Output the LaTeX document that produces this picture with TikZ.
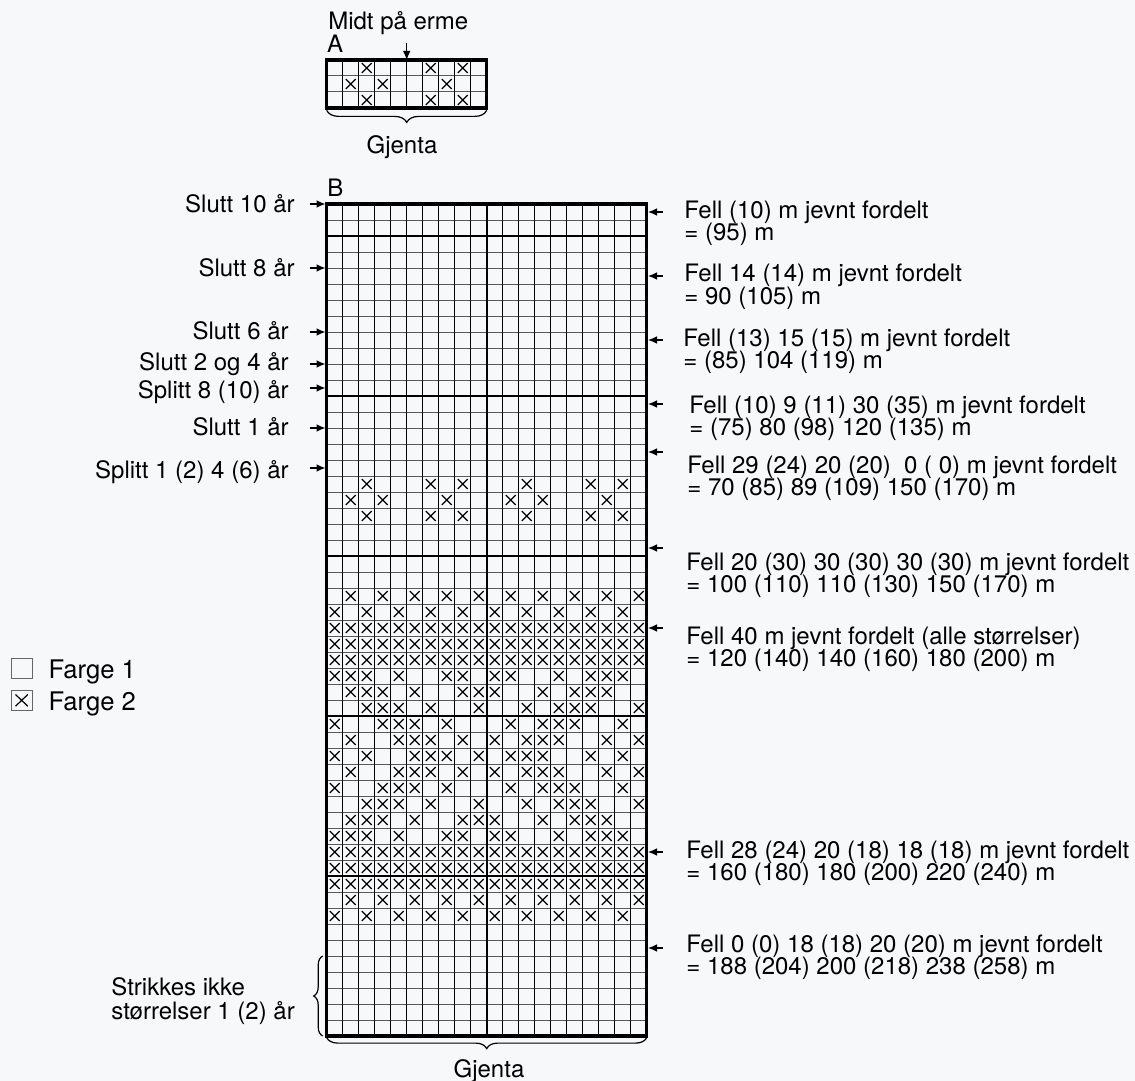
\documentclass[tikz,border=0pt]{standalone}
\usepackage{fontspec}
\setmainfont{TeX Gyre Heros}
\usetikzlibrary{arrows.meta,decorations.pathreplacing}
\definecolor{bakgrunn}{RGB}{247,248,250}
\tikzset{>={Latex[length=4.5pt,width=3.8pt]}}
\tikzset{
  pil/.style={->,line width=0.6pt},
  vlinje/.style={line width=0.5pt},
  hlinje/.style={line width=0.5pt,black!65},
  tiende/.style={line width=1pt},
  ramme/.style={line width=1.6pt},
  kryss/.style={line width=0.6pt},
  klamme/.style={decorate,line width=0.6pt},
}

\begin{document}
\begin{tikzpicture}[x=0.5pt,y=-0.5pt,font=\fontsize{12}{11.2}\selectfont]
\fill[bakgrunn] (0,0) rectangle (1135,1081);
\useasboundingbox (0,0) rectangle (1135,1081);

% diagram A
\node[anchor=base,inner sep=0pt] (midt) at (398.3,29.3) {Midt på erme};
\node[anchor=base west,inner sep=0pt] (A) at (326.7,52.3) {A};
\coordinate (midtHale) at (406.7,43);
\coordinate (midtSpiss) at (406.7,60);
\draw[pil] (midtHale) -- (midtSpiss);
\begin{scope}[shift={(326.7,60)},x=8pt,y=-8pt]
\foreach \r in {1,2} \draw[hlinje] (0,\r) -- (10,\r);
\foreach \c in {1,...,9} \draw[vlinje] (\c,0) -- (\c,3);
\foreach \r/\cs in {0/{2,6,8},1/{1,3,7},2/{2,6,8}}
  \foreach \c in \cs
    \draw[kryss] (\c+.19,\r+.19) -- (\c+.81,\r+.81) (\c+.19,\r+.81) -- (\c+.81,\r+.19);
\draw[ramme] (0,0) rectangle (10,3);
\coordinate (Avs) at (0,3.15);
\coordinate (Ahs) at (10,3.15);
\end{scope}
\draw[klamme,decoration={brace,amplitude=6pt}] (Ahs) -- (Avs);
\node[anchor=base,inner sep=0pt] (gjentaA) at (402,154) {Gjenta};

% diagram B
\node[anchor=base west,inner sep=0pt] (B) at (327,196) {B};
\begin{scope}[shift={(326.7,204)},x=8pt,y=-8pt]
\foreach \r in {1,...,51} \draw[hlinje] (0,\r) -- (20,\r);
\foreach \c in {1,...,19} \draw[vlinje] (\c,0) -- (\c,52);
\foreach \r in {2,12,22,32,42} \draw[tiende] (0,\r) -- (20,\r);
\draw[line width=0.9pt] (10,0) -- (10,52);
\foreach \r/\cs in {17/{2,6,8,12,16,18},18/{1,3,7,11,13,17},19/{2,6,8,12,16,18},
    24/{1,3,...,19},25/{0,2,...,18},26/{0,...,19},27/{0,...,19},28/{0,...,19},
    29/{0,1,2,4,7,8,10,11,14,16,17,18},30/{1,2,3,5,8,9,10,13,15,16,17},
    31/{2,3,4,6,9,12,14,15,16,19},32/{0,3,4,5,7,11,13,14,15,18},
    33/{1,4,5,6,8,10,12,13,14,17,19},34/{0,2,5,6,7,9,11,12,13,16,18},
    35/{1,4,5,6,8,10,12,13,14,17,19},36/{0,3,4,5,7,11,13,14,15,18},
    37/{2,3,4,6,9,12,14,15,16,19},38/{1,2,3,5,8,9,10,13,15,16,17},
    39/{0,1,2,4,7,8,10,11,14,16,17,18},40/{0,...,19},41/{0,...,19},42/{0,...,19},
    43/{1,3,...,19},44/{0,2,...,18}}
  \foreach \c in \cs
    \draw[kryss] (\c+.19,\r+.19) -- (\c+.81,\r+.81) (\c+.19,\r+.81) -- (\c+.81,\r+.19);
\draw[ramme] (0,0) rectangle (20,52);
\coordinate (Bvs) at (0,52.1);
\coordinate (Bhs) at (20,52.1);
\coordinate (Bo) at (-0.25,47);
\coordinate (Bu) at (-0.25,52);
\end{scope}
\draw[klamme,decoration={brace,amplitude=5.5pt}] (Bhs) -- (Bvs);
\node[anchor=base,inner sep=0pt] (gjentaB) at (489,1077) {Gjenta};
\draw[klamme,decoration={brace,amplitude=4.5pt}] (Bu) -- (Bo);
\node[anchor=base west,inner sep=0pt] (strikkes1) at (111,995) {Strikkes ikke};
\node[anchor=base west,inner sep=0pt] (strikkes2) at (111,1019.3) {størrelser 1 (2) år};

% merker til venstre
\foreach \y/\b/\x/\t [count=\i] in {204/212.7/295/Slutt 10 år,268/276.7/295/Slutt 8 år,
    332/339.3/289/Slutt 6 år,364/370/289/Slutt 2 og 4 år,388/398.3/289/Splitt 8 (10) år,
    428/435/289/Slutt 1 år,468/478.3/289/Splitt 1 (2) 4 (6) år} {
  \coordinate (vHale\i) at (310,\y);
  \coordinate (vSpiss\i) at (325.5,\y);
  \draw[pil] (vHale\i) -- (vSpiss\i);
  \node[anchor=base east,inner sep=0pt] (vTekst\i) at (\x,\b) {\t};
}

% fellinger til hoyre
\foreach \y/\b/\x/\ta/\tb [count=\i] in {
    212/218.3/684/Fell (10) m jevnt fordelt/= (95) m,
    276/281.7/684/Fell 14 (14) m jevnt fordelt/= 90 (105) m,
    340/346/683/Fell (13) 15 (15) m jevnt fordelt/= (85) 104 (119) m,
    404/413/689/Fell (10) 9 (11) 30 (35) m jevnt fordelt/= (75) 80 (98) 120 (135) m,
    452/473.3/687/Fell 29 (24) 20 (20)\ \ 0 (\ 0) m jevnt fordelt/= 70 (85) 89 (109) 150 (170) m,
    548/570/686/Fell 20 (30) 30 (30) 30 (30) m jevnt fordelt/= 100 (110) 110 (130) 150 (170) m,
    628/644/686/Fell 40 m jevnt fordelt (alle størrelser)/= 120 (140) 140 (160) 180 (200) m,
    852/858/686/Fell 28 (24) 20 (18) 18 (18) m jevnt fordelt/= 160 (180) 180 (200) 220 (240) m,
    948/952/686/Fell 0 (0) 18 (18) 20 (20) m jevnt fordelt/= 188 (204) 200 (218) 238 (258) m} {
  \coordinate (hHale\i) at (663,\y);
  \coordinate (hSpiss\i) at (648,\y);
  \draw[pil] (hHale\i) -- (hSpiss\i);
  \node[anchor=base west,inner sep=0pt] (hTekst\i) at (\x,\b) {\ta};
  \node[anchor=base west,inner sep=0pt] (hSum\i) at (\x,\b+22.4) {\tb};
}

% forklaring
\draw[black!60,line width=0.5pt] (11,658.3) rectangle (32.3,678.3);
\draw[black!60,line width=0.5pt] (11,690) rectangle (32.3,710.7);
\draw[kryss] (15.5,694.5) -- (27.8,706.2) (15.5,706.2) -- (27.8,694.5);
\node[anchor=base west,inner sep=0pt,font=\fontsize{12.8}{14}\selectfont] (farge1) at (48.3,678.3) {Farge 1};
\node[anchor=base west,inner sep=0pt,font=\fontsize{12.8}{14}\selectfont] (farge2) at (48.3,710) {Farge 2};
\end{tikzpicture}
\end{document}
